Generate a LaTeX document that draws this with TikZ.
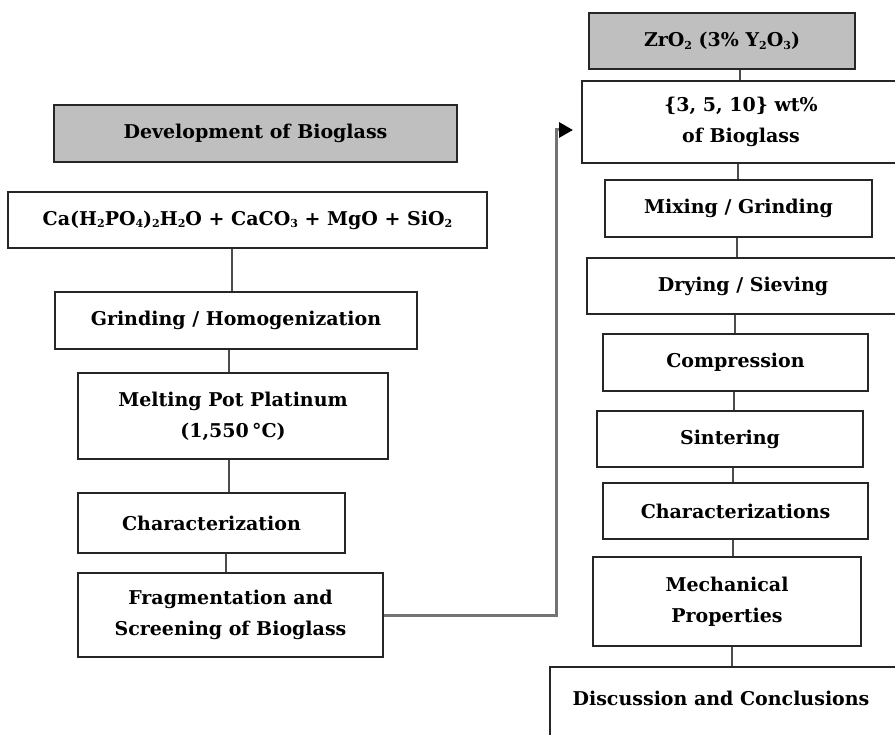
\documentclass[tikz,border=0pt]{standalone}
\usepackage{fontspec}
\setmainfont{DejaVu Serif}
\usetikzlibrary{arrows.meta}
\tikzset{
  box/.style={draw=black!85, line width=1.3pt, fill=white, inner sep=0pt,
    align=center, font=\bfseries\fontsize{19}{31}\selectfont},
  headbox/.style={box, fill=black!25},
  link/.style={draw=black!70, line width=1.3pt},
  feed/.style={draw=black!55, line width=3pt,
    -{Triangle[length=14pt,width=15pt,black]}},
}
% small chemical subscripts
\newcommand\sub[1]{\raisebox{-0.25ex}{\fontsize{11}{11}\selectfont #1}}
\begin{document}
\begin{tikzpicture}[x=1pt,y=-1pt]
\useasboundingbox (0,0) rectangle (895,735);
\clip (0,0) rectangle (895,735);

% left column: preparing the bioglass
\node[headbox, minimum width=403pt, minimum height=57pt] (dev) at (255.5,133.5) {Development of Bioglass};
\node[box, minimum width=479pt, minimum height=56pt] (ca) at (247.5,220)
  {Ca(H\sub{2}PO\sub{4})\sub{2}H\sub{2}O + CaCO\sub{3} + MgO + SiO\sub{2}};
\node[box, minimum width=362pt, minimum height=57pt] (grind) at (236,320.5) {Grinding / Homogenization};
\node[box, minimum width=310pt, minimum height=86pt] (melt) at (233,416) {Melting Pot Platinum\\(1,550\,°C)};
\node[box, minimum width=267pt, minimum height=60pt] (char) at (211.5,523) {Characterization};
\node[box, minimum width=305pt, minimum height=84pt] (frag) at (230.5,615) {Fragmentation and\\Screening of Bioglass};

% right column: zirconia composites
\node[headbox, minimum width=266pt, minimum height=56pt] (zro) at (722,41) {ZrO\sub{2} (3\% Y\sub{2}O\sub{3})};
\node[box, minimum width=318pt, minimum height=82pt] (wt) at (741,122) {\{3, 5, 10\} wt\%\\of Bioglass};
\node[box, minimum width=267pt, minimum height=57pt] (mix) at (738.5,208.5) {Mixing / Grinding};
\node[box, minimum width=312pt, minimum height=56pt] (dry) at (743,286) {Drying / Sieving};
\node[box, minimum width=265pt, minimum height=57pt] (comp) at (735.5,362.5) {Compression};
\node[box, minimum width=266pt, minimum height=56pt] (sint) at (730,439) {Sintering};
\node[box, minimum width=265pt, minimum height=56pt] (chars) at (735.5,511) {Characterizations};
\node[box, minimum width=268pt, minimum height=89pt] (mech) at (727,601.5) {Mechanical\\Properties};
\node[box, minimum width=360pt, minimum height=93pt] (disc) at (730,713.5)
  {Discussion and Conclusions\hspace*{18pt}\\~};

% vertical links
\draw[link] (ca.south -| 232,0) -- (grind.north -| 232,0);
\draw[link] (grind.south -| 229,0) -- (melt.north -| 229,0);
\draw[link] (melt.south -| 229,0) -- (char.north -| 229,0);
\draw[link] (char.south -| 226,0) -- (frag.north -| 226,0);

\draw[link] (zro.south -| 740,0) -- (wt.north -| 740,0);
\draw[link] (wt.south -| 738,0) -- (mix.north -| 738,0);
\draw[link] (mix.south -| 737,0) -- (dry.north -| 737,0);
\draw[link] (dry.south -| 735,0) -- (comp.north -| 735,0);
\draw[link] (comp.south -| 734,0) -- (sint.north -| 734,0);
\draw[link] (sint.south -| 733,0) -- (chars.north -| 733,0);
\draw[link] (chars.south -| 733,0) -- (mech.north -| 733,0);
\draw[link] (mech.south -| 732,0) -- (disc.north -| 732,0);

% bioglass feeding into the composite route
\coordinate (bend) at (556,130);
\coordinate (tip) at (573,130);
\draw[feed] (frag.east) -| (bend) -- (tip);
\end{tikzpicture}
\end{document}
